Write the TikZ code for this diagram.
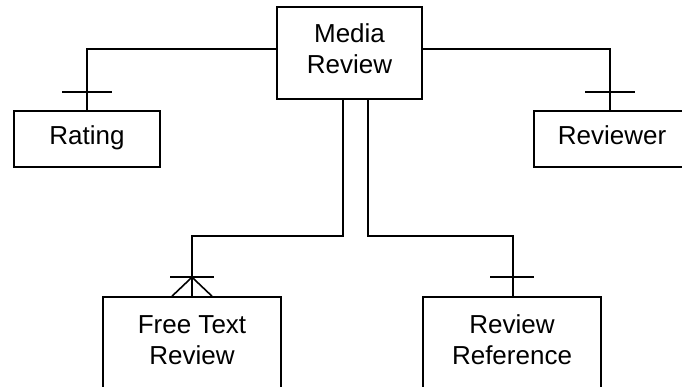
\documentclass[tikz,border=0pt]{standalone}
\usepackage{fontspec}
\setmainfont{Liberation Sans}
\usetikzlibrary{calc}
\begin{document}
\begin{tikzpicture}[x=1pt,y=1pt,
  ent/.style={draw, rectangle, line width=1.6pt, align=center, inner sep=0pt,
    font=\fontsize{26}{31}\selectfont},
  twoline/.style={text height=49pt, text depth=7pt},
  oneline/.style={text height=18pt, text depth=6pt},
  conn/.style={line width=1.6pt}]
\useasboundingbox (0,0) rectangle (682,387);
\begin{scope}
\clip (0,0) rectangle (682,387);
% entities
\node[ent, twoline, minimum width=145pt, minimum height=92pt] (mr) at (349.5,334) {Media\\Review};
\node[ent, oneline, minimum width=146pt, minimum height=56pt] (rat) at (87,248) {Rating};
\node[ent, oneline, minimum width=156pt, minimum height=56pt] (rev) at (612,248) {Reviewer};
\node[ent, twoline, minimum width=178pt, minimum height=94pt] (ftr) at (192,43) {Free Text\\Review};
\node[ent, twoline, minimum width=178pt, minimum height=94pt] (rrf) at (512,43) {Review\\Reference};
% relationships from the media review
\draw[conn] ([yshift=4pt]mr.west) -| (rat.north);
\draw[conn] ([yshift=4pt]mr.east) -| ([xshift=-2pt]rev.north);
\draw[conn] ([xshift=-6.5pt]mr.south) -- ++(0,-136) -| (ftr.north);
\draw[conn] ([xshift=18.5pt]mr.south) -- ++(0,-136) -| ([xshift=1pt]rrf.north);
% cardinality marks: one
\draw[conn] ([shift={(-25pt,18pt)}]rat.north) -- ([shift={(25pt,18pt)}]rat.north);
\draw[conn] ([shift={(-27pt,18pt)}]rev.north) -- ([shift={(23pt,18pt)}]rev.north);
\draw[conn] ([shift={(-22pt,19pt)}]rrf.north) -- ([shift={(22pt,19pt)}]rrf.north);
% cardinality mark: many
\draw[conn] ([shift={(-22pt,19pt)}]ftr.north) -- ([shift={(22pt,19pt)}]ftr.north);
\draw[conn] ([xshift=-20pt]ftr.north) -- ([yshift=19pt]ftr.north) -- ([xshift=20pt]ftr.north);
\end{scope}
\end{tikzpicture}
\end{document}
